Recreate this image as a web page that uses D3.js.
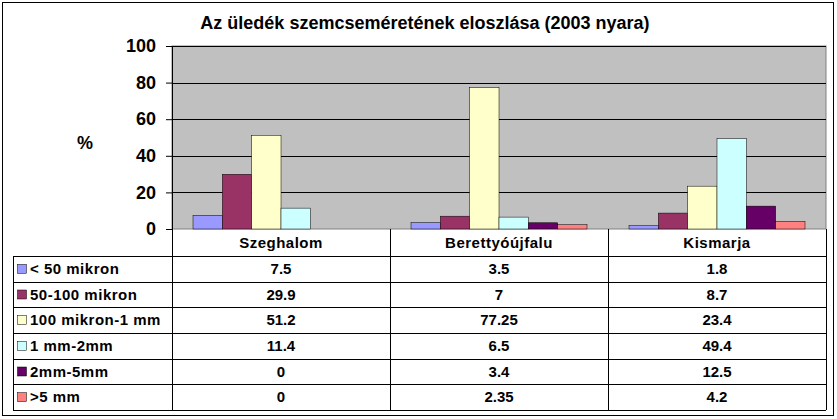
<!DOCTYPE html>
<html><head><meta charset="utf-8">
<script src="https://cdn.jsdelivr.net/npm/d3@7"></script>
<style>body{margin:0;background:#fff;font-family:Arial,"Liberation Sans",sans-serif;font-weight:bold}</style>
</head><body>
<script>
var categories = ["Szeghalom", "Berettyóújfalu", "Kismarja"];
var series = ["< 50 mikron", "50-100 mikron", "100 mikron-1 mm", "1 mm-2mm", "2mm-5mm", ">5 mm"];
var colors = ["#9999FF", "#993366", "#FFFFCC", "#CCFFFF", "#660066", "#FF8080"];
var valueLabels = [["7.5","3.5","1.8"],["29.9","7","8.7"],["51.2","77.25","23.4"],["11.4","6.5","49.4"],["0","3.4","12.5"],["0","2.35","4.2"]];
var values = valueLabels.map(function(r) { return r.map(Number); });
var yTicks = [0, 20, 40, 60, 80, 100];

var W = 837, H = 419;
var svg = d3.select("body").append("svg").attr("width", W).attr("height", H);
svg.append("rect").attr("x", 2.5).attr("y", 2.5).attr("width", 831).attr("height", 413)
  .attr("fill", "#fff").attr("stroke", "#000");

svg.append("text").attr("x", 425).attr("y", 29).attr("text-anchor", "middle")
  .attr("font-size", 18).text("Az üledék szemcseméretének eloszlása (2003 nyara)");

var pLeft = 172, pRight = 826, pTop = 46, pBottom = 229;
var x = d3.scaleBand().domain(categories).range([pLeft, pRight]);
var x1 = d3.scaleBand().domain(series).range([21, x.bandwidth() - 21]);
var y = d3.scaleLinear().domain([0, 100]).range([pBottom, pTop]);

svg.append("rect").attr("x", pLeft).attr("y", pTop).attr("width", pRight - pLeft).attr("height", pBottom - pTop)
  .attr("fill", "#C0C0C0").attr("stroke", "#808080");
svg.selectAll(".grid").data(yTicks.slice(1)).enter().append("line")
  .attr("x1", pLeft).attr("x2", pRight).attr("y1", function(d) { return Math.round(y(d)) + 0.5; })
  .attr("y2", function(d) { return Math.round(y(d)) + 0.5; }).attr("stroke", "#000");

series.forEach(function(s, i) {
  svg.selectAll(".b" + i).data(categories).enter().append("rect")
    .attr("x", function(c) { return x(c) + x1(s); })
    .attr("width", x1.bandwidth())
    .attr("y", function(c, j) { return y(values[i][j]); })
    .attr("height", function(c, j) { return pBottom - y(values[i][j]); })
    .attr("fill", colors[i]).attr("stroke", "#000").attr("stroke-width", 0.5);
});

var yAxis = svg.append("g").attr("transform", "translate(" + pLeft + ",0)")
  .call(d3.axisLeft(y).tickValues(yTicks).tickSize(6).tickPadding(10));
yAxis.select(".domain").attr("stroke", "#000");
yAxis.selectAll("text").attr("font-size", 18).attr("font-weight", "bold").attr("font-family", "Arial");

svg.append("text").attr("x", 85).attr("y", 149).attr("text-anchor", "middle").attr("font-size", 18).text("%");

// data table
var rowH = (410 - 256) / 6, tl = 13;
var g = svg.append("g").attr("stroke", "#000").attr("fill", "none");
series.forEach(function(s, i) {
  var yy = Math.round(256 + (i + 1) * rowH) + 0.5;
  g.append("line").attr("x1", tl).attr("x2", pRight).attr("y1", yy).attr("y2", yy);
});
g.append("line").attr("x1", tl + 0.5).attr("x2", tl + 0.5).attr("y1", 256).attr("y2", 410);
g.append("line").attr("x1", tl).attr("x2", pRight).attr("y1", 256.5).attr("y2", 256.5);
categories.concat([null]).forEach(function(c) {
  var xx = c ? x(c) : pRight;
  g.append("line").attr("x1", Math.round(xx) + 0.5).attr("x2", Math.round(xx) + 0.5).attr("y1", pBottom).attr("y2", 410);
});

svg.selectAll(".cat").data(categories).enter().append("text")
  .attr("x", function(c) { return x(c) + x.bandwidth() / 2; }).attr("y", 248)
  .attr("text-anchor", "middle").attr("font-size", 15).attr("letter-spacing", 0.5).text(function(c) { return c; });

series.forEach(function(s, i) {
  var cy = 256 + i * rowH + rowH / 2;
  svg.append("rect").attr("x", 17.5).attr("y", cy - 4.5).attr("width", 9).attr("height", 9)
    .attr("fill", colors[i]).attr("stroke", "#000").attr("stroke-width", 0.5);
  svg.append("text").attr("x", 30).attr("y", cy + 5).attr("font-size", 15).attr("letter-spacing", 0.5).text(s);
  categories.forEach(function(c, j) {
    svg.append("text").attr("x", x(c) + x.bandwidth() / 2).attr("y", cy + 5)
      .attr("text-anchor", "middle").attr("font-size", 15).text(valueLabels[i][j]);
  });
});
</script>
</body></html>
